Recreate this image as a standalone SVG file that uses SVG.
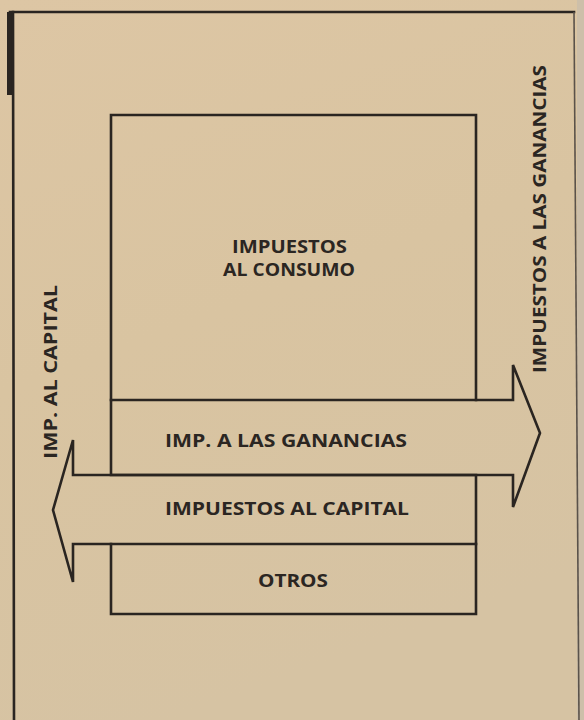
<svg xmlns="http://www.w3.org/2000/svg" width="584" height="720" viewBox="0 0 584 720">
  <defs>
    <linearGradient id="paper" x1="0" y1="0" x2="0.3" y2="1">
      <stop offset="0" stop-color="#ddc6a4"/>
      <stop offset="0.5" stop-color="#d9c4a1"/>
      <stop offset="1" stop-color="#d6c3a3"/>
    </linearGradient>
    <style>
      .ln { fill: none; stroke: #2a2521; stroke-width: 2.6; stroke-linejoin: miter; stroke-linecap: square; }
      .lbl { font-family: "Open Sans", "Liberation Sans", sans-serif; font-weight: 700; font-size: 17.5px; fill: #2b2622; }
    </style>
  </defs>
  <rect x="0" y="0" width="584" height="720" fill="url(#paper)"/>
  <rect x="577" y="0" width="7" height="720" fill="#cdbfa9"/>

  <g id="frame">
    <path class="ln" d="M10,12 L574,12"/>
    <path d="M7,12 L12,12 L12,95 L7,95 Z" fill="#2a2521"/>
    <path class="ln" d="M13,12 L14,720"/>
    <path d="M574,12 L579,720" fill="none" stroke="#5a524a" stroke-width="1.6"/>
  </g>

  <g id="consumo-box">
    <path class="ln" d="M111,400 L111,115 L476,115 L476,400"/>
    <text class="lbl" x="232" y="253" textLength="115" lengthAdjust="spacingAndGlyphs">IMPUESTOS</text>
    <text class="lbl" x="223" y="276" textLength="132" lengthAdjust="spacingAndGlyphs">AL CONSUMO</text>
  </g>

  <g id="otros-box">
    <path class="ln" d="M111,544 L111,614 L476,614 L476,544"/>
    <text class="lbl" x="258" y="587" textLength="70" lengthAdjust="spacingAndGlyphs">OTROS</text>
  </g>

  <g id="connectors">
    <g id="arrow-ganancias">
      <path class="ln" d="M111,475 L111,400 L513,400 L513,365 L540,433 L513,507 L513,475 L111,475"/>
      <text class="lbl" x="165" y="447" textLength="242" lengthAdjust="spacingAndGlyphs">IMP. A LAS GANANCIAS</text>
    </g>
    <g id="arrow-capital">
      <path class="ln" d="M476,475 L73,475 L73,440 L53,510 L73,582 L73,544 L476,544 L476,475"/>
      <text class="lbl" x="165" y="515" textLength="244" lengthAdjust="spacingAndGlyphs">IMPUESTOS AL CAPITAL</text>
    </g>
  </g>

  <g id="side-labels">
    <text class="lbl" transform="translate(57,459) rotate(-90)" x="0" y="0" textLength="174" lengthAdjust="spacingAndGlyphs">IMP. AL CAPITAL</text>
    <text class="lbl" transform="translate(546,373) rotate(-90)" x="0" y="0" textLength="308" lengthAdjust="spacingAndGlyphs">IMPUESTOS A LAS GANANCIAS</text>
  </g>
</svg>
